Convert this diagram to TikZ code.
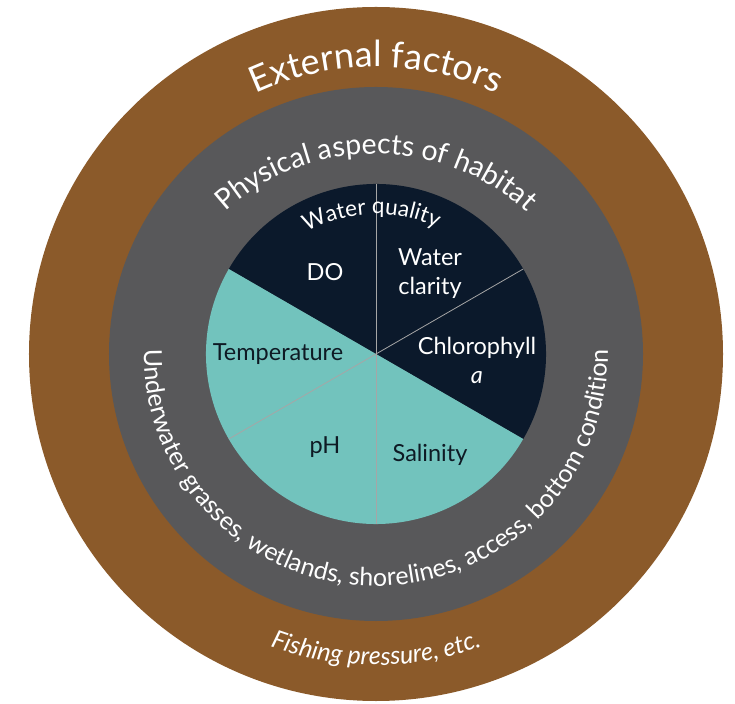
\documentclass[tikz,border=0pt]{standalone}
\usepackage{fontspec}
\setmainfont{Lato}
\usetikzlibrary{decorations.text}
\definecolor{ringbrown}{HTML}{8B5A2A}
\definecolor{ringgray}{HTML}{58585A}
\definecolor{deepnavy}{HTML}{0B192B}
\definecolor{softteal}{HTML}{72C3BD}
\definecolor{inktext}{HTML}{0E1A24}
\begin{document}
\begin{tikzpicture}[x=1pt, y=1pt,
slicetext/.style={font=\fontsize{23.5}{29}\selectfont, align=center},
onnavy/.style={slicetext, text=white},
onteal/.style={slicetext, text=inktext},
divider/.style={draw=gray!70, line width=0.8pt},
curved/.style={decorate, decoration={text along path, text align=center,
  text color=white, text={#1}}}]
\useasboundingbox (-376,-349) rectangle (359,354);
% rings
\fill[ringbrown] (0,0) circle (347);
\fill[ringgray] (0,0) circle (267);
% water quality pie
\fill[deepnavy] (0,0) -- (-30:170) arc (-30:150:170) -- cycle;
\fill[softteal] (0,0) -- (150:170) arc (150:330:170) -- cycle;
\foreach \a in {30,90,210,270}
  \draw[divider] (0,0) -- (\a:170);
% ring titles
\path[curved={|\fontsize{36}{36}\selectfont|External factors}]
  (150:287) arc (150:30:287);
\path[curved={|\fontsize{28.5}{28.5}\selectfont|Physical aspects of habitat}]
  (165:214 and 200) arc[start angle=165, end angle=15, x radius=214, y radius=200];
\path[curved={|\fontsize{22.5}{22.5}\selectfont|Water quality}]
  (152:140) arc (152:32:140);
\path[curved={|\fontsize{25}{25}\selectfont|Underwater grasses, wetlands, shorelines, access, bottom condition}]
  (170:232) arc (170:370:232);
\path[curved={|\itshape\fontsize{25}{25}\selectfont|Fishing pressure, etc.}]
  (215:311) arc (215:325:311);
% slice labels
\node[onnavy] (do) at (-51,82) {DO};
\node[onnavy] (clarity) at (54,80) {Water\\clarity};
\node[onnavy] (chloro) at (101,-6) {Chlorophyll\\\textit{a}};
\node[onteal] (temp) at (-98,0) {Temperature};
\node[onteal] (ph) at (-51,-93) {pH};
\node[onteal] (salinity) at (54,-101) {Salinity};
\end{tikzpicture}
\end{document}
